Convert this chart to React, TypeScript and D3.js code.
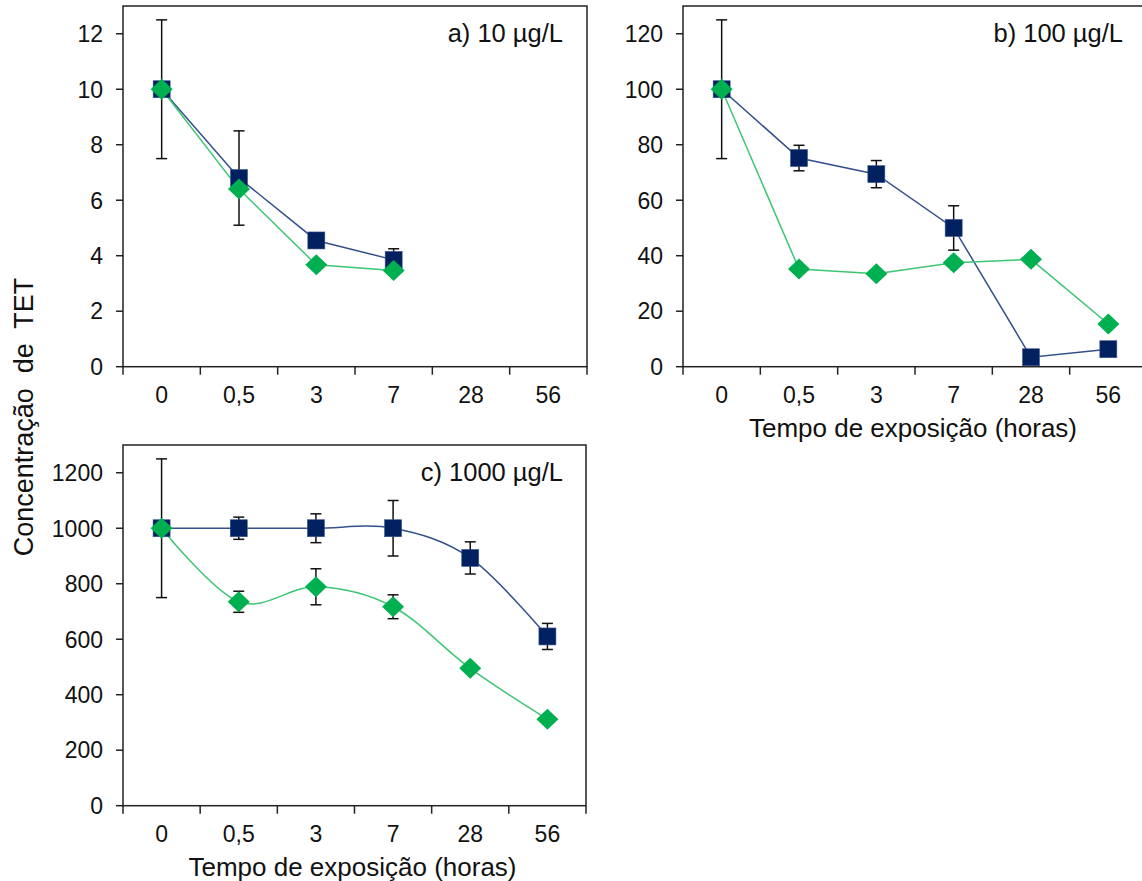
import React from "react";
import * as d3 from "d3";

// Exposure times (hours), shared by every panel
const timeLabels: string[] = ["0", "0,5", "3", "7", "28", "56"];

// a) 10 µg/L
const a10Blue: (number | null)[] = [10, 6.8, 4.55, 3.85, null, null];
const a10BlueErr: (number | null)[] = [2.5, 1.7, 0.1, 0.4, null, null];
const a10Green: (number | null)[] = [10, 6.4, 3.67, 3.47, null, null];
const a10GreenErr: (number | null)[] = [null, null, null, null, null, null];

// b) 100 µg/L
const b100Blue: (number | null)[] = [100, 75.2, 69.4, 50, 3.4, 6.3];
const b100BlueErr: (number | null)[] = [25, 4.6, 4.9, 8, null, null];
const b100Green: (number | null)[] = [100, 35.2, 33.5, 37.5, 38.7, 15.4];
const b100GreenErr: (number | null)[] = [null, null, null, null, null, null];

// c) 1000 µg/L
const c1000Blue: (number | null)[] = [1000, 1000, 1000, 1000, 893, 610];
const c1000BlueErr: (number | null)[] = [250, 40, 52, 100, 58, 47];
const c1000Green: (number | null)[] = [1000, 735, 789, 717, 495, 312];
const c1000GreenErr: (number | null)[] = [null, 38, 65, 43, null, null];

const yTicksA: number[] = [0, 2, 4, 6, 8, 10, 12];
const yTicksB: number[] = [0, 20, 40, 60, 80, 100, 120];
const yTicksC: number[] = [0, 200, 400, 600, 800, 1000, 1200];

const FONT = "'Liberation Sans', Arial, Helvetica, sans-serif";
const BLUE = "#002060";
const BLUE_LINE = "#34508C";
const GREEN = "#00B050";
const GREEN_LINE = "#3CC673";

type PanelDef = {
  label: string;
  left: number;
  top: number;
  width: number;
  height: number;
  yMax: number;
  ticks: number[];
  blue: (number | null)[];
  blueErr: (number | null)[];
  green: (number | null)[];
  greenErr: (number | null)[];
  smooth: boolean;
  xTitle: boolean;
};

const panels: PanelDef[] = [
  { label: "a) 10 µg/L", left: 123, top: 6, width: 464, height: 360.7, yMax: 13, ticks: yTicksA,
    blue: a10Blue, blueErr: a10BlueErr, green: a10Green, greenErr: a10GreenErr, smooth: false, xTitle: false },
  { label: "b) 100 µg/L", left: 683, top: 6, width: 464, height: 360.7, yMax: 130, ticks: yTicksB,
    blue: b100Blue, blueErr: b100BlueErr, green: b100Green, greenErr: b100GreenErr, smooth: false, xTitle: true },
  { label: "c) 1000 µg/L", left: 123, top: 445, width: 463, height: 360.7, yMax: 1300, ticks: yTicksC,
    blue: c1000Blue, blueErr: c1000BlueErr, green: c1000Green, greenErr: c1000GreenErr, smooth: true, xTitle: true },
];

function Panel({ p }: { p: PanelDef }) {
  const x = d3.scaleBand<string>().domain(timeLabels).range([0, p.width]).paddingInner(0).paddingOuter(0);
  const y = d3.scaleLinear().domain([0, p.yMax]).range([p.height, 0]);
  const bw = x.bandwidth();
  const cx = (i: number) => (x(timeLabels[i]) as number) + bw / 2;

  const makeLine = (vals: (number | null)[]) => {
    const pts = vals
      .map((v, i) => (v == null ? null : ([cx(i), y(v)] as [number, number])))
      .filter((d): d is [number, number] => d !== null);
    const gen = d3.line<[number, number]>().x((d) => d[0]).y((d) => d[1]);
    if (p.smooth) gen.curve(d3.curveCardinal.tension(0));
    return gen(pts) || "";
  };

  const errBars = (vals: (number | null)[], errs: (number | null)[], key: string) =>
    vals.map((v, i) => {
      const e = errs[i];
      if (v == null || e == null) return null;
      const px = cx(i);
      const y1 = y(v + e);
      const y2 = y(v - e);
      return (
        <g key={key + i} stroke="#111" strokeWidth={1.5}>
          <line x1={px} x2={px} y1={y1} y2={y2} />
          <line x1={px - 5.5} x2={px + 5.5} y1={y1} y2={y1} />
          <line x1={px - 5.5} x2={px + 5.5} y1={y2} y2={y2} />
        </g>
      );
    });

  const edges = timeLabels.map((t) => x(t) as number).concat([p.width]);

  return (
    <g transform={`translate(${p.left},${p.top})`}>
      {/* frame */}
      <rect x={0} y={0} width={p.width} height={p.height} fill="none" stroke="#222" strokeWidth={1.5} />
      {/* y ticks */}
      {p.ticks.map((t) => (
        <g key={"yt" + t} transform={`translate(0,${y(t)})`}>
          <line x1={-7} x2={0} stroke="#222" strokeWidth={1.5} />
          <text x={-20} dy="0.36em" textAnchor="end" fontSize={23} fontFamily={FONT} fill="#111">
            {t}
          </text>
        </g>
      ))}
      {/* x ticks at category boundaries */}
      {edges.map((ex, i) => (
        <line key={"xt" + i} x1={ex} x2={ex} y1={p.height} y2={p.height + 8} stroke="#222" strokeWidth={1.5} />
      ))}
      {timeLabels.map((t, i) => (
        <text key={"xl" + t} x={cx(i)} y={p.height + 36} textAnchor="middle" fontSize={23} fontFamily={FONT} fill="#111">
          {t}
        </text>
      ))}
      {p.xTitle && (
        <text x={p.width / 2 - 2} y={p.height + 70} textAnchor="middle" fontSize={26} fontFamily={FONT} fill="#111">
          Tempo de exposição (horas)
        </text>
      )}
      {/* series */}
      <path d={makeLine(p.blue)} fill="none" stroke={BLUE_LINE} strokeWidth={1.5} />
      <path d={makeLine(p.green)} fill="none" stroke={GREEN_LINE} strokeWidth={1.5} />
      {errBars(p.blue, p.blueErr, "be")}
      {errBars(p.green, p.greenErr, "ge")}
      {p.blue.map((v, i) =>
        v == null ? null : (
          <rect key={"bm" + i} x={cx(i) - 8.5} y={y(v) - 8.5} width={17} height={17} fill={BLUE} stroke="#3a5590" strokeWidth={0.6} />
        )
      )}
      {p.green.map((v, i) =>
        v == null ? null : (
          <path
            key={"gm" + i}
            d={`M${cx(i)},${y(v) - 10.5}L${cx(i) + 11},${y(v)}L${cx(i)},${y(v) + 10.5}L${cx(i) - 11},${y(v)}Z`}
            fill={GREEN}
          />
        )
      )}
      {/* panel label */}
      <text x={440} y={36} textAnchor="end" fontSize={25.5} fontFamily={FONT} fill="#111">
        {p.label}
      </text>
    </g>
  );
}

export default function App() {
  return (
    <svg
      width={1142}
      height={881}
      style={{ position: "absolute", left: 0, top: 0, background: "#fff" }}
    >
      <rect width={1142} height={881} fill="#fff" />
      {panels.map((p) => (
        <Panel key={p.label} p={p} />
      ))}
      <text
        transform="translate(33,417) rotate(-90)"
        textAnchor="middle"
        fontSize={27}
        fontFamily={FONT}
        fill="#111"
        style={{ whiteSpace: "pre" }}
      >
        {"Concentração  de  TET"}
      </text>
    </svg>
  );
}
